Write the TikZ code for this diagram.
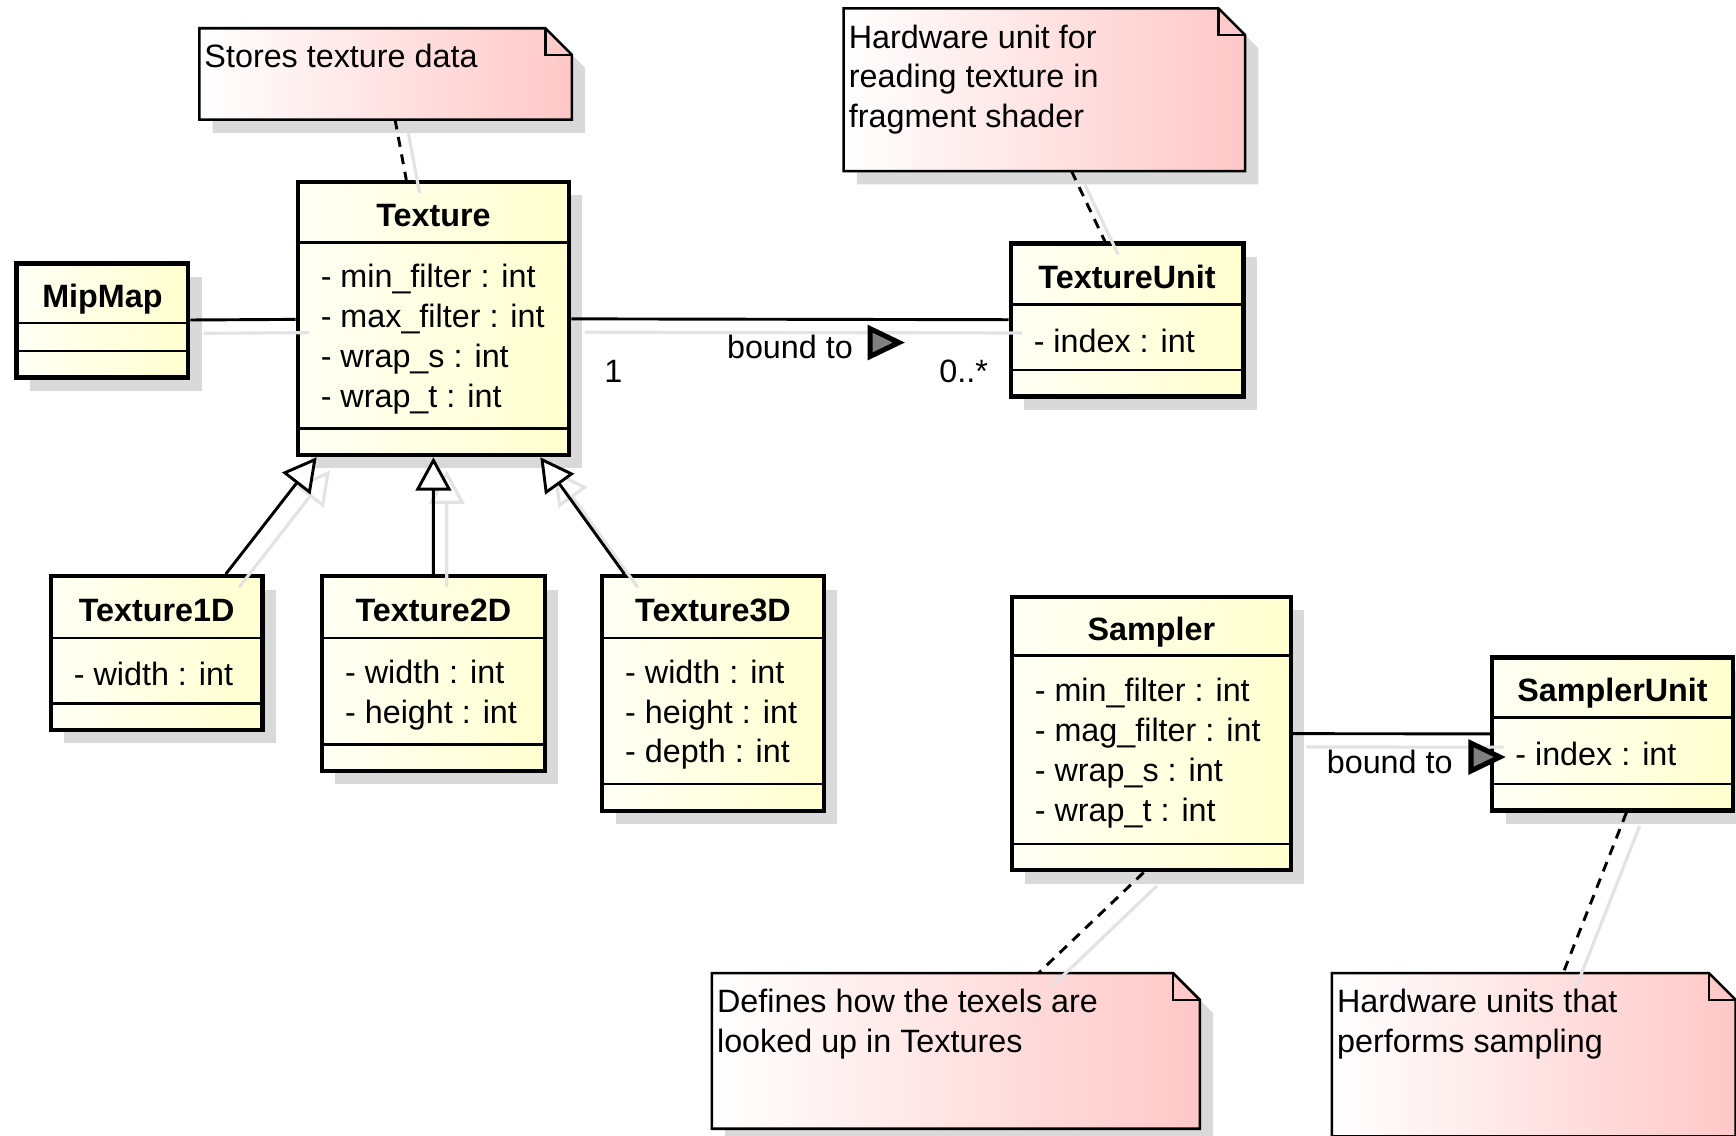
\documentclass[tikz,border=0pt]{standalone}
\usepackage{fontspec}
\setmainfont{Liberation Sans}
\usetikzlibrary{positioning,shadows,arrows.meta,shapes.geometric}

\tikzset{
  umltext/.style={font=\fontsize{8.3pt}{10.24pt}\selectfont, inner sep=0pt},
  umlshadow/.style={drop shadow={shadow xshift=0.12cm, shadow yshift=-0.12cm, fill=black!15, opacity=1}},
  lineshadow/.style={preaction={draw=black!11, solid, line width=0.8pt, transform canvas={shift={(0.12cm,-0.12cm)}}}},
  clsbox/.style={draw, line width=1.1pt, left color=yellow!4, right color=yellow!19, umlshadow, inner sep=0pt},
  clssep/.style={line width=0.55pt},
  clsname/.style={umltext, font=\fontsize{8.3pt}{10.24pt}\selectfont\bfseries, anchor=base},
  clsattr/.style={umltext, align=left, anchor=west},
  notebox/.style={draw, line width=0.65pt, left color=white, right color=red!22, umlshadow},
  notetext/.style={umltext, align=left, anchor=north west},
  notelink/.style={line width=0.75pt, dash pattern=on 0.09cm off 0.07cm, lineshadow},
  assoc/.style={line width=0.75pt, lineshadow},
  inherit/.style={line width=0.75pt, -{Triangle[length=0.3cm, width=0.32cm, fill=white]}, lineshadow},
  boundtip/.style={isosceles triangle, isosceles triangle stretches, minimum width=0.25cm, minimum height=0.26cm, inner sep=0pt, draw, line width=1.3pt, fill=black!50}
}

% class box: name, top left, width, header height, attribute height, title, attributes
\newcommand{\umlclass}[7]{%
  \pgfmathsetmacro\clstotal{#4+#5+0.26}
  \node[clsbox, anchor=north west, minimum width=#3cm, minimum height=\clstotal cm] (#1) at (#2) {};
  \draw[clssep] ([yshift=-#4cm]#1.north west) -- ([yshift=-#4cm]#1.north east);
  \draw[clssep] ([yshift=0.26cm]#1.south west) -- ([yshift=0.26cm]#1.south east);
  \node[clsname] (#1-name) at ([yshift=-#4cm/2-0.14cm]#1.north) {#6};
  \node[clsattr] (#1-attr) at ([shift={(0.22cm,-#4cm-#5cm/2-0.05cm)}]#1.north west) {#7};
}

% note: name, top left, width, height, text
\newcommand{\umlnote}[5]{%
  \node[anchor=north west, minimum width=#3cm, minimum height=#4cm, inner sep=0pt] (#1) at (#2) {};
  \draw[notebox] (#1.north west) -- ([xshift=-0.24cm]#1.north east) -- ([yshift=-0.24cm]#1.north east) -- (#1.south east) -- (#1.south west) -- cycle;
  \draw[line width=0.65pt] ([xshift=-0.24cm]#1.north east) |- ([yshift=-0.24cm]#1.north east);
  \node[notetext] (#1-text) at ([shift={(0.04cm,-0.14cm)}]#1.north west) {#5};
}

\begin{document}
\begin{tikzpicture}[x=0.01cm, y=-0.01cm]
\path[use as bounding box, fill=white] (0,0) rectangle (1568,1026);

\umlnote{texnote}{180,25.5}{3.35}{0.81}{Stores texture data}
\umlnote{unitnote}{762,7.5}{3.61}{1.455}{Hardware unit for\\reading texture in\\fragment shader}
\umlnote{smpnote}{643,879}{4.39}{1.39}{Defines how the texels are\\looked up in Textures}
\umlnote{sunitnote}{1203,879}{3.63}{1.46}{Hardware units that\\performs sampling}

\umlclass{mipmap}{13,236}{1.55}{0.56}{0.21}{MipMap}{}
\umlclass{texture}{267,162.5}{2.45}{0.565}{1.64}{Texture}{- min\_filter : int\\- max\_filter : int\\- wrap\_s : int\\- wrap\_t : int}
\umlclass{texunit}{911,218}{2.10}{0.57}{0.55}{TextureUnit}{- index : int}
\umlclass{tex1d}{44,518.5}{1.91}{0.58}{0.55}{Texture1D}{- width : int}
\umlclass{tex2d}{289,518.5}{2.01}{0.58}{0.92}{Texture2D}{- width : int\\- height : int}
\umlclass{tex3d}{542,518.5}{2.00}{0.58}{1.28}{Texture3D}{- width : int\\- height : int\\- depth : int}
\umlclass{sampler}{912,537}{2.52}{0.55}{1.66}{Sampler}{- min\_filter : int\\- mag\_filter : int\\- wrap\_s : int\\- wrap\_t : int}
\umlclass{samplerunit}{1346,592}{2.17}{0.56}{0.56}{SamplerUnit}{- index : int}

\draw[assoc] (mipmap) -- (texture);
\draw[assoc] (texture) -- (texunit)
  node[umltext, pos=0.096, yshift=-0.47cm] (one) {1}
  node[umltext, pos=0.897, yshift=-0.465cm] (many) {0..*}
  node[umltext, pos=0.5, yshift=-0.25cm] (texbound) {bound to};
\node[boundtip, right=0.12cm of texbound, yshift=0.04cm] (texbound-tip) {};
\draw[assoc] (sampler) -- (samplerunit)
  node[umltext, pos=0.49, yshift=-0.25cm] (smpbound) {bound to};
\node[boundtip, right=0.13cm of smpbound, yshift=0.04cm] (smpbound-tip) {};

\draw[inherit] ([xshift=-0.35cm]tex1d.north east) -- ([xshift=0.19cm]texture.south west);
\draw[inherit] (tex2d.north) -- (texture.south);
\draw[inherit] ([xshift=0.22cm]tex3d.north west) -- ([xshift=-0.28cm]texture.south east);

\draw[notelink] ([xshift=0.085cm]texnote.south) -- ([xshift=-0.245cm]texture.north);
\draw[notelink] ([xshift=0.245cm]unitnote.south) -- ([xshift=-0.2cm]texunit.north);
\draw[notelink] ([xshift=-0.07cm]sampler.south) -- ([xshift=0.745cm]smpnote.north);
\draw[notelink] ([xshift=0.125cm]samplerunit.south) -- ([xshift=0.265cm]sunitnote.north);
\end{tikzpicture}
\end{document}
